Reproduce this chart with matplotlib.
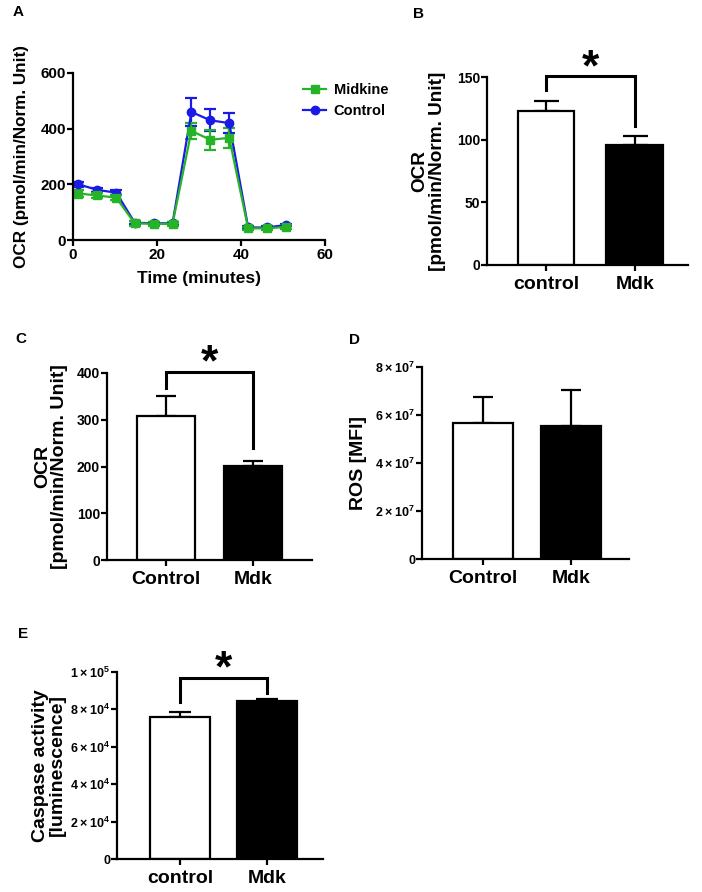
import numpy as np
import matplotlib
matplotlib.use('Agg')
import matplotlib.pyplot as plt
from matplotlib.lines import Line2D

# ---------------------------------------------------------
# DATA
# ---------------------------------------------------------

# Panel A: Seahorse time course
time_min = [1.3, 5.8, 10.3, 14.7, 19.2, 23.7, 28.2, 32.7, 37.2, 41.7, 46.2, 50.7]
ocr_midkine = [167, 160, 152, 60, 58, 58, 392, 360, 367, 42, 42, 47]
err_midkine = [12, 10, 10, 8, 8, 8, 30, 35, 35, 6, 6, 6]
ocr_control = [200, 180, 170, 62, 60, 60, 460, 430, 420, 45, 45, 54]
err_control = [10, 8, 8, 6, 6, 6, 50, 40, 36, 5, 5, 5]

# Panel B
groups_b = ['control', 'Mdk']
ocr_b = [123, 96]
err_b = [8, 7]

# Panel C
groups_c = ['Control', 'Mdk']
ocr_c = [309, 202]
err_c = [41, 9]

# Panel D
groups_d = ['Control', 'Mdk']
ros_d = [5.67e7, 5.54e7]
err_d = [1.08e7, 1.52e7]
ticks_d = [0, 2e7, 4e7, 6e7, 8e7]
ticklabels_d = ['0', r'$\mathbf{2\times10^{7}}$', r'$\mathbf{4\times10^{7}}$',
                r'$\mathbf{6\times10^{7}}$', r'$\mathbf{8\times10^{7}}$']

# Panel E
groups_e = ['control', 'Mdk']
casp_e = [75.7e3, 84.5e3]
err_e = [3.0e3, 1.3e3]
ticks_e = [0, 2e4, 4e4, 6e4, 8e4, 1e5]
ticklabels_e = ['0', r'$\mathbf{2\times10^{4}}$', r'$\mathbf{4\times10^{4}}$',
                r'$\mathbf{6\times10^{4}}$', r'$\mathbf{8\times10^{4}}$',
                r'$\mathbf{1\times10^{5}}$']

# ---------------------------------------------------------
# STYLE
# ---------------------------------------------------------

plt.rcParams['font.family'] = ['Liberation Sans', 'DejaVu Sans']
plt.rcParams['font.weight'] = 'bold'
plt.rcParams['axes.labelweight'] = 'bold'
plt.rcParams['mathtext.fontset'] = 'custom'
plt.rcParams['mathtext.rm'] = 'Liberation Sans'
plt.rcParams['mathtext.bf'] = 'Liberation Sans:bold'

LW = 1.6
GREEN = '#27b327'
BLUE = '#1a1ae6'

W, H = 702, 892
fig = plt.figure(figsize=(W / 100, H / 100), dpi=100)


def add_ax(left, right, top, bottom):
    # pixel box -> figure fraction
    return fig.add_axes([left / W, 1 - bottom / H, (right - left) / W, (bottom - top) / H])


def prism_style(ax, tick_size=10):
    for s in ['top', 'right']:
        ax.spines[s].set_visible(False)
    for s in ['left', 'bottom']:
        ax.spines[s].set_linewidth(LW)
    ax.tick_params(axis='both', direction='out', length=4, width=LW,
                   labelsize=tick_size, pad=1)


def bar_panel(ax, groups, vals, errs, xlim, width, capsize, label_size=14):
    x = np.arange(len(groups))
    ax.bar(x, vals, width=width, color=['white', 'black'], edgecolor='black',
           linewidth=LW, zorder=2)
    ax.errorbar(x, vals, yerr=[np.zeros(len(errs)), errs], fmt='none', ecolor='black',
                elinewidth=LW, capsize=capsize, capthick=LW, zorder=1)
    prism_style(ax)
    ax.set_xticks(x)
    ax.set_xticklabels(groups, fontsize=label_size, fontweight='bold')
    ax.set_xlim(*xlim)
    ax.tick_params(axis='x', pad=4)


def bracket(ax, y_top, y_left, y_right, star_size=32):
    ax.plot([0, 0, 1, 1], [y_left, y_top, y_top, y_right], color='black',
            linewidth=2.2, clip_on=False, solid_joinstyle='miter')
    ax.annotate('*', xy=(0.5, y_top), xytext=(0, -3), textcoords='offset points',
                ha='center', va='baseline', fontsize=star_size, fontweight='bold',
                annotation_clip=False)


# ---------------------------------------------------------
# PANEL A
# ---------------------------------------------------------
axA = add_ax(73, 325, 73, 240)
axA.errorbar(time_min, ocr_control, yerr=err_control, color=BLUE, marker='o',
             markersize=6, linewidth=LW, capsize=4, capthick=LW, elinewidth=LW)
axA.errorbar(time_min, ocr_midkine, yerr=err_midkine, color=GREEN, marker='s',
             markersize=6, linewidth=LW, capsize=4, capthick=LW, elinewidth=LW)
axA.set_xlim(0, 60)
axA.set_ylim(0, 600)
axA.set_xticks([0, 20, 40, 60])
axA.set_yticks([0, 200, 400, 600])
prism_style(axA, tick_size=11)
axA.tick_params(axis='x', pad=2)
axA.set_xlabel('Time (minutes)', fontsize=12.5, labelpad=6)
axA.set_ylabel('OCR (pmol/min/Norm. Unit)', fontsize=12.3, labelpad=8)
handles = [Line2D([], [], color=GREEN, marker='s', markersize=6, linewidth=LW),
           Line2D([], [], color=BLUE, marker='o', markersize=6, linewidth=LW)]
fig.legend(handles, ['Midkine', 'Control'], loc='upper left',
           bbox_to_anchor=(290 / W, 1 - 70 / H), frameon=False, fontsize=10.5,
           handlelength=1.6, handletextpad=0.5, labelspacing=0.45)

# ---------------------------------------------------------
# PANEL B
# ---------------------------------------------------------
axB = add_ax(487, 688, 77, 265)
bar_panel(axB, groups_b, ocr_b, err_b, (-0.663, 1.596), 0.64, 9)
axB.set_ylim(0, 150)
axB.set_yticks([0, 50, 100, 150])
axB.set_ylabel('OCR\n[pmol/min/Norm. Unit]', fontsize=13.7, labelpad=8, linespacing=1.0)
bracket(axB, 151, 140, 111)

# ---------------------------------------------------------
# PANEL C
# ---------------------------------------------------------
axC = add_ax(107, 312, 373, 560)
bar_panel(axC, groups_c, ocr_c, err_c, (-0.678, 1.678), 0.67, 7)
axC.set_ylim(0, 400)
axC.set_yticks([0, 100, 200, 300, 400])
axC.set_ylabel('OCR\n[pmol/min/Norm. Unit]', fontsize=14, labelpad=6, linespacing=1.0)
bracket(axC, 403, 368, 239)

# ---------------------------------------------------------
# PANEL D
# ---------------------------------------------------------
axD = add_ax(422, 629, 367, 559)
bar_panel(axD, groups_d, ros_d, err_d, (-0.693, 1.66), 0.68, 7)
axD.set_ylim(0, 8e7)
axD.set_yticks(ticks_d)
axD.set_yticklabels(ticklabels_d, fontsize=9)
axD.set_ylabel('ROS [MFI]', fontsize=14, labelpad=6)

# ---------------------------------------------------------
# PANEL E
# ---------------------------------------------------------
axE = add_ax(117, 323, 672, 859)
bar_panel(axE, groups_e, casp_e, err_e, (-0.724, 1.644), 0.68, 8)
axE.set_ylim(0, 1e5)
axE.set_yticks(ticks_e)
axE.set_yticklabels(ticklabels_e, fontsize=9)
axE.set_ylabel('Caspase activity\n[luminescence]', fontsize=14, labelpad=3, linespacing=1.0)
bracket(axE, 97e3, 84e3, 88.8e3)

# panel letters
for lab, px, py in [('A', 13, 12), ('B', 413, 14), ('C', 15, 339),
                    ('D', 349, 340), ('E', 18, 634)]:
    fig.text(px / W, 1 - py / H, lab, fontsize=11, fontweight='bold',
             ha='left', va='center')

plt.savefig('out.png', dpi=100)
